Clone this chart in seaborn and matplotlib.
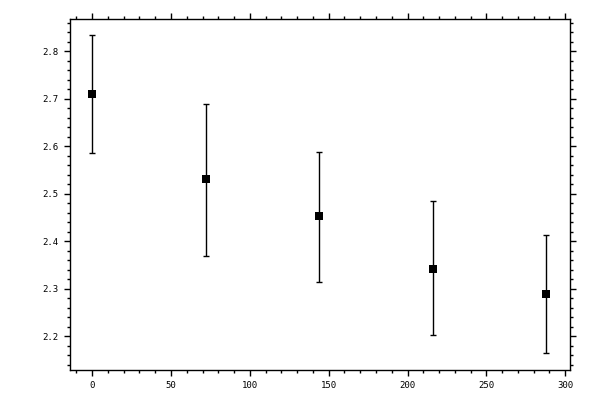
import seaborn as sns
import matplotlib.pyplot as plt
from matplotlib.ticker import MultipleLocator
import pandas as pd

# data
x_vals = [0, 72, 144, 216, 288]
y_vals = [2.709, 2.530, 2.452, 2.342, 2.289]
y_low = [2.585, 2.368, 2.315, 2.202, 2.164]
y_high = [2.834, 2.689, 2.587, 2.484, 2.414]

df = pd.DataFrame({"x": x_vals, "y": y_vals, "lo": y_low, "hi": y_high})

sns.set_theme(style="ticks")
plt.rcParams["font.family"] = ["DejaVu Sans Mono"]

fig = plt.figure(figsize=(6, 4), dpi=100)
ax = fig.add_axes([0.116, 0.075, 0.834, 0.877])

# error bars first, then markers on top
ax.errorbar(df["x"], df["y"],
            yerr=[df["y"] - df["lo"], df["hi"] - df["y"]],
            fmt="none", ecolor="black", elinewidth=1.0, capsize=2.5, capthick=1.0)
sns.scatterplot(data=df, x="x", y="y", marker="s", color="black",
                s=36, edgecolor="black", linewidth=0, ax=ax, zorder=3)

ax.set_xlim(-14.3, 303)
ax.set_ylim(2.129, 2.867)
ax.xaxis.set_major_locator(MultipleLocator(50))
ax.xaxis.set_minor_locator(MultipleLocator(10))
ax.yaxis.set_major_locator(MultipleLocator(0.1))
ax.yaxis.set_minor_locator(MultipleLocator(0.02))
ax.set_xlabel("")
ax.set_ylabel("")

for side in ["top", "right", "bottom", "left"]:
    ax.spines[side].set_visible(True)
    ax.spines[side].set_linewidth(1.0)
    ax.spines[side].set_color("black")

ax.tick_params(which="both", direction="out", top=True, right=True,
               color="black", width=1.0, labelsize=6.5, labelcolor="black")
ax.tick_params(which="major", length=4, pad=4)
ax.tick_params(which="minor", length=2.5)

fig.savefig("out.png", dpi=100)
